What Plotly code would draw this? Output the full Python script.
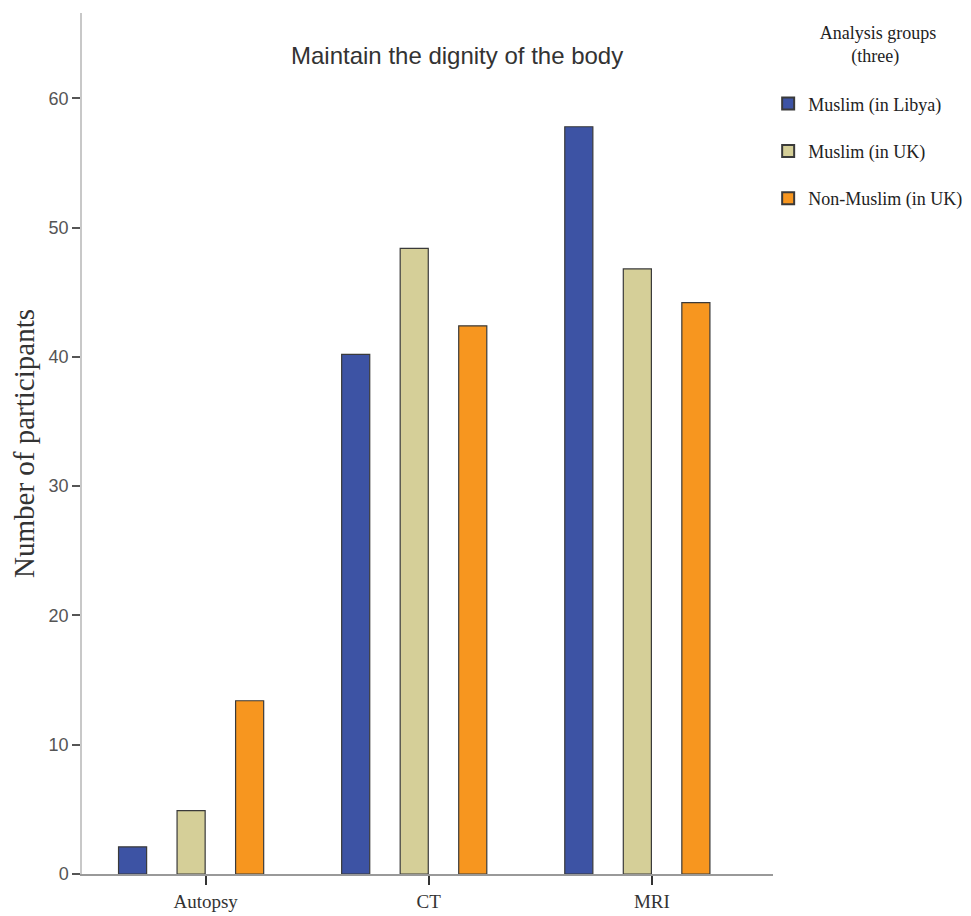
import plotly.graph_objects as go

categories = ["Autopsy", "CT", "MRI"]
groups = ["Muslim (in Libya)", "Muslim (in UK)", "Non-Muslim (in UK)"]
libya = [2.1, 40.2, 57.8]
uk_muslim = [4.9, 48.4, 46.8]
uk_non_muslim = [13.4, 42.4, 44.2]
y_ticks = [0, 10, 20, 30, 40, 50, 60]

series = [libya, uk_muslim, uk_non_muslim]
colors = ["#3D53A4", "#D5CF98", "#F7961F"]
xpos = list(range(len(categories)))

fig = go.Figure()
for i, (name, vals) in enumerate(zip(groups, series)):
    fig.add_trace(go.Bar(
        x=xpos, y=vals, name=name, legendgroup=name,
        marker=dict(color=colors[i], line=dict(color="#3a3a3a", width=1.2)),
    ))

serif = "Liberation Serif, Times New Roman, serif"
sans = "Liberation Sans, Arial, sans-serif"
nb = "&nbsp;"
zw = "\u200b"

fig.update_layout(
    width=971, height=916,
    margin=dict(l=74, r=206, t=5, b=50),
    paper_bgcolor="white", plot_bgcolor="white",
    barmode="group", bargap=0.213, bargroupgap=0.52,
    showlegend=True,
    legend=dict(
        x=0.993, xanchor="left", y=0.9975, yanchor="top",
        font=dict(family=serif, size=18, color="#222"),
        title=dict(text=zw + nb * 11 + "Analysis groups<br>" + zw + nb * 18 + "(three)<br> ",
                   side="top",
                   font=dict(family=serif, size=18, color="#222")),
        tracegroupgap=21, itemsizing="constant",
        bgcolor="rgba(0,0,0,0)",
    ),
    xaxis=dict(
        range=[-0.489, 2.608],
        tickmode="array", tickvals=[p + 0.065 for p in xpos], ticktext=categories,
        ticks="outside", ticklen=9, tickcolor="#333", tickwidth=1.5,
        showline=True, linecolor="#999", linewidth=1.5,
        showgrid=False, zeroline=False,
        tickfont=dict(family=serif, size=19, color="#333"),
    ),
    yaxis=dict(
        range=[0, 66.6],
        tickmode="array", tickvals=y_ticks,
        ticks="outside", ticklen=8, tickcolor="#555", tickwidth=1.5,
        showline=True, linecolor="#c8c8c8", linewidth=1.5,
        showgrid=False, zeroline=False,
        tickfont=dict(family=sans, size=18, color="#555"),
        title=dict(text="Number of participants", standoff=10,
                   font=dict(family=serif, size=29, color="#333")),
    ),
    annotations=[dict(
        text="Maintain the dignity of the body", xref="paper", yref="paper",
        x=0.543, y=0.951, xanchor="center", yanchor="middle",
        showarrow=False, font=dict(family=sans, size=24, color="#333"),
    )],
)

fig.write_html("out.html")
